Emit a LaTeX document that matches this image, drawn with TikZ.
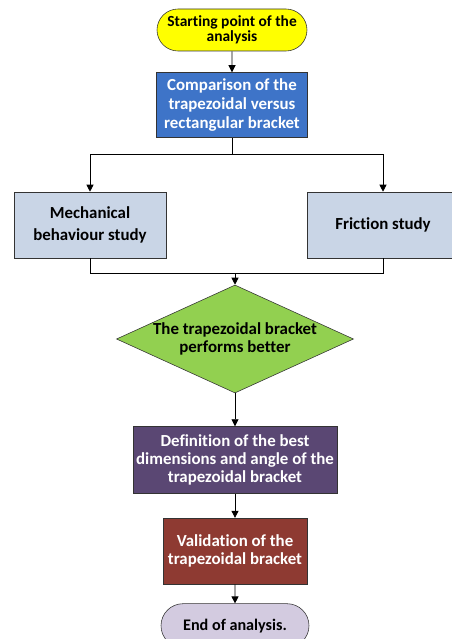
\documentclass[tikz,border=0pt]{standalone}
\usepackage{fontspec}
\setmainfont{Carlito}[Ligatures=NoCommon]
\usepackage{tikz}
\usetikzlibrary{shapes.geometric,shapes.misc,arrows.meta,calc,positioning}
\definecolor{startyellow}{HTML}{FFFF00}
\definecolor{compblue}{HTML}{3E74C8}
\definecolor{studyblue}{HTML}{C9D5E6}
\definecolor{decgreen}{HTML}{92D050}
\definecolor{defpurple}{HTML}{5A4773}
\definecolor{valred}{HTML}{8E3A32}
\definecolor{endlilac}{HTML}{D3CBE0}
\tikzset{
    semithick,
    >={Triangle[width=5pt,length=5pt]},
    terminal/.style = {rounded rectangle, draw=black!80, thin, align=center, inner sep=0pt,
                       font=\fontsize{11}{11}\selectfont\bfseries},
    stepbox/.style = {rectangle, draw=black!80, thin, align=center, inner sep=0pt,
                      font=\fontsize{12}{13}\selectfont\bfseries},
    decision/.style = {diamond, draw=black!80, thin, align=center, inner xsep=-1.2cm, inner ysep=-0.3cm,
                       font=\fontsize{12}{13}\selectfont\bfseries},
    link/.style = {->, line width=0.6pt}
}
\begin{document}
\begin{tikzpicture}
        \useasboundingbox (0,0) rectangle (11.275,-15.975);
        % Start and comparison
        \node[terminal, fill=startyellow, minimum width=3.75cm, minimum height=1.05cm] (start) at (5.8,-0.75) {Starting point of the\\analysis};
        \node[stepbox, fill=compblue, text=white, minimum width=3.775cm, minimum height=1.625cm,
              font=\fontsize{12}{13.5}\selectfont\bfseries] (comparison) [below=0.525cm of start] {Comparison of the\\trapezoidal versus\\rectangular bracket};
        % The two studies
        \node[stepbox, fill=studyblue, minimum width=3.8cm, minimum height=1.65cm,
              font=\fontsize{12}{15.5}\selectfont\bfseries] (mechanical) at (2.25,-5.625) {Mechanical\\behaviour study};
        \node[stepbox, fill=studyblue, minimum width=3.8cm, minimum height=1.65cm] (friction) at (9.575,-5.625) {Friction study};
        % Decision and the last steps
        \node[decision, fill=decgreen, minimum width=5.925cm, minimum height=2.7cm] (better) at (5.875,-8.475) {The trapezoidal bracket\\performs better};
        \node[stepbox, fill=defpurple, text=white, minimum width=5.1cm, minimum height=1.675cm] (definition) [below=0.825cm of better] {Definition of the best\\dimensions and angle of the\\trapezoidal bracket};
        \node[stepbox, fill=valred, text=white, minimum width=3.6cm, minimum height=1.65cm] (validation) [below=0.6cm of definition] {Validation of the\\trapezoidal bracket};
        \node[terminal, fill=endlilac, minimum width=3.7cm, minimum height=1.1cm,
              font=\fontsize{11.5}{12}\selectfont\bfseries] (finish) [below=0.475cm of validation] {End of analysis.};
        % Split and merge points
        \coordinate (split) at ($(comparison.south)+(0,-0.425)$);
        \coordinate (merge) at ($(better.north)+(0,0.275)$);
        % Connectors
        \draw[link] (start) -- (comparison);
        \draw[line width=0.6pt] (comparison) -- (split);
        \draw[link] (split) -| (mechanical);
        \draw[link] (split) -| (friction);
        \draw[line width=0.6pt] (mechanical.south) |- (merge) -| (friction.south);
        \draw[link] (merge) -- (better);
        \draw[link] (better) -- (definition);
        \draw[link] (definition) -- (validation);
        \draw[link] (validation) -- (finish);
    \end{tikzpicture}
\end{document}
